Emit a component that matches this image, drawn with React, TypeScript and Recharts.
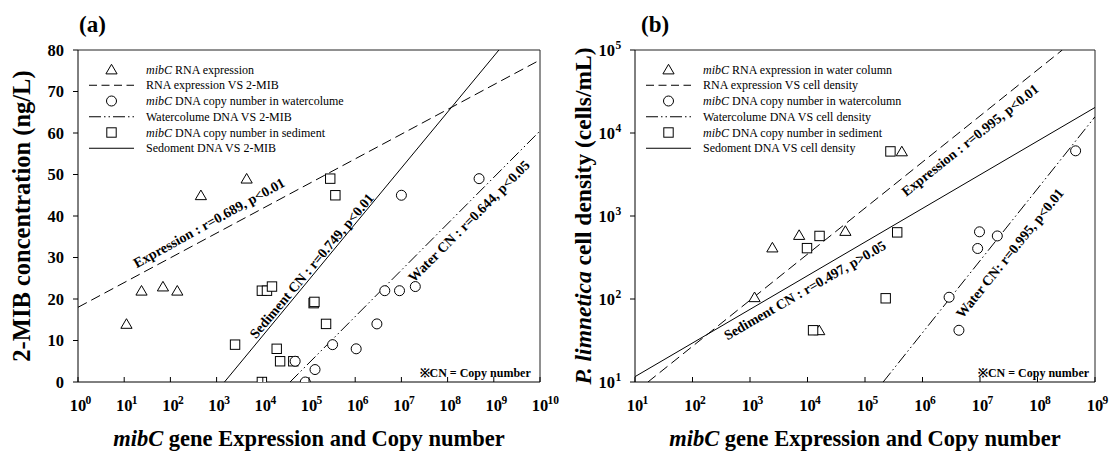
import React from 'react';
import { ScatterChart, Scatter, XAxis, YAxis, ReferenceLine, ReferenceDot } from 'recharts';

const FONT = "'Liberation Serif', 'Times New Roman', Times, serif";

// ---------------- Panel (a) ----------------
const aXTicks = [1, 10, 100, 1e3, 1e4, 1e5, 1e6, 1e7, 1e8, 1e9, 1e10];
const aYTicks = [0, 10, 20, 30, 40, 50, 60, 70, 80];

const aRna = [
  { x: 11.2, y: 14 }, { x: 23.7, y: 22 }, { x: 69, y: 23 }, { x: 141, y: 22 },
  { x: 457, y: 45 }, { x: 4470, y: 49 },
];
const aWater = [
  { x: 83200, y: 0 }, { x: 135000, y: 3 }, { x: 50100, y: 5 }, { x: 324000, y: 9 },
  { x: 1.05e6, y: 8 }, { x: 2.95e6, y: 14 }, { x: 4.37e6, y: 22 }, { x: 9.1e6, y: 22 },
  { x: 2.0e7, y: 23 }, { x: 1.0e7, y: 45 }, { x: 4.8e8, y: 49 },
];
const aSediment = [
  { x: 2510, y: 9 }, { x: 9550, y: 0 }, { x: 9550, y: 22 }, { x: 12300, y: 22 },
  { x: 15800, y: 23 }, { x: 20000, y: 8 }, { x: 23700, y: 5 }, { x: 45700, y: 5 },
  { x: 126000, y: 19 }, { x: 131000, y: 19.3 }, { x: 234000, y: 14 }, { x: 288000, y: 49 },
  { x: 372000, y: 45 },
];
const aRnaFit = [{ x: 1, y: 18 }, { x: 1e10, y: 77.6 }];
const aWaterFit = [{ x: 38900, y: 0 }, { x: 1e10, y: 60.5 }];
const aSedimentFit = [{ x: 1480, y: 0 }, { x: 1.29e9, y: 80 }];

const aNotes = [
  { x: 684, y: 38.4, angle: -29, text: 'Expression : r=0.689, p<0.01' },
  { x: 113000, y: 28.0, angle: -50, text: 'Sediment CN : r=0.749, p<0.01' },
  { x: 2.88e8, y: 38.8, angle: -45, text: 'Water CN : r=0.644, p<0.05' },
];
const aCnNote = { x: 6.3e9, y: 2.2, text: '※CN = Copy number' };

// ---------------- Panel (b) ----------------
const bXTicks = [10, 100, 1e3, 1e4, 1e5, 1e6, 1e7, 1e8, 1e9];
const bYTicks = [10, 100, 1e3, 1e4, 1e5];

const bRna = [
  { x: 1200, y: 105 }, { x: 2450, y: 417 }, { x: 7160, y: 590 }, { x: 45600, y: 660 },
  { x: 16000, y: 42 }, { x: 437000, y: 6000 },
];
const bWater = [
  { x: 9.8e6, y: 645 }, { x: 2.0e7, y: 575 }, { x: 9.1e6, y: 406 }, { x: 2.9e6, y: 105 },
  { x: 4.3e6, y: 42 }, { x: 4.6e8, y: 6100 },
];
const bSediment = [
  { x: 9800, y: 410 }, { x: 16200, y: 575 }, { x: 12500, y: 42 }, { x: 229000, y: 102 },
  { x: 363000, y: 635 }, { x: 277000, y: 6000 },
];
const bRnaFit = [{ x: 16.8, y: 10 }, { x: 2.7e8, y: 1e5 }];
const bWaterFit = [{ x: 207000, y: 10 }, { x: 1e9, y: 15700 }];
const bSedimentFit = [{ x: 10, y: 11.6 }, { x: 1e9, y: 20300 }];

const bNotes = [
  { x: 6.68e6, y: 8240, angle: -38.5, text: 'Expression : r=0.995, p<0.01' },
  { x: 8970, y: 128, angle: -30, text: 'Sediment CN : r=0.497, p>0.05' },
  { x: 3.29e7, y: 358, angle: -51, text: 'Water CN: r=0.995, p<0.01' },
];
const bCnNote = { x: 7.9e8, y: 12.8, text: '※CN = Copy number' };

// ---------------- Legends ----------------
type Kind = 'triangle' | 'circle' | 'square' | 'dash' | 'dashdot' | 'solid';
const aLegend: { kind: Kind; italic?: string; text: string }[] = [
  { kind: 'triangle', italic: 'mibC', text: ' RNA expression' },
  { kind: 'dash', text: 'RNA expression VS 2-MIB' },
  { kind: 'circle', italic: 'mibC', text: ' DNA copy number in watercolume' },
  { kind: 'dashdot', text: 'Watercolume DNA VS 2-MIB' },
  { kind: 'square', italic: 'mibC', text: ' DNA copy number in sediment' },
  { kind: 'solid', text: 'Sedoment DNA VS 2-MIB' },
];
const bLegend: { kind: Kind; italic?: string; text: string }[] = [
  { kind: 'triangle', italic: 'mibC', text: ' RNA expression in water column' },
  { kind: 'dash', text: 'RNA expression VS cell density' },
  { kind: 'circle', italic: 'mibC', text: ' DNA copy number in watercolumn' },
  { kind: 'dashdot', text: 'Watercolume DNA VS cell density' },
  { kind: 'square', italic: 'mibC', text: ' DNA copy number in sediment' },
  { kind: 'solid', text: 'Sedoment DNA VS cell density' },
];

const DASH = '10 5';
const DASHDOT = '12 3 1.5 3 1.5 3';

// ---------------- Shapes ----------------
const triPath = (cx: number, cy: number) =>
  `M${cx},${cy - 5.2} L${cx + 5.6},${cy + 4.4} L${cx - 5.6},${cy + 4.4} Z`;

const TriangleShape = (p: any) => (
  <path d={triPath(p.cx, p.cy)} fill="#fff" stroke="#000" strokeWidth={1} />
);
const CircleShape = (p: any) => (
  <circle cx={p.cx} cy={p.cy} r={5} fill="#fff" stroke="#000" strokeWidth={1} />
);
const SquareShape = (p: any) => (
  <rect x={p.cx - 4.7} y={p.cy - 4.7} width={9.4} height={9.4} fill="#fff" stroke="#000" strokeWidth={1} />
);
const NoShape = () => <g />;

// ---------------- Ticks ----------------
const TICK_FS = 16.5;
const SUP_FS = 11.5;

const PowXTick = (p: any) => {
  const { x, y, payload } = p;
  const e = Math.round(Math.log10(payload.value));
  return (
    <g>
      <line x1={x} x2={x} y1={y} y2={y - 5} stroke="#000" />
      <text x={x} y={y + 29} textAnchor="middle" fontFamily={FONT} fontWeight="bold" fontSize={TICK_FS} fill="#000">10</text>
      <text x={x + 7.6} y={y + 21.5} textAnchor="start" fontFamily={FONT} fontWeight="bold" fontSize={SUP_FS} fill="#000">{e}</text>
    </g>
  );
};

const NumYTick = (p: any) => {
  const { x, y, payload } = p;
  return (
    <g>
      <line x1={x - 5} x2={x} y1={y} y2={y} stroke="#000" />
      <text x={x - 14} y={y + 5.5} textAnchor="end" fontFamily={FONT} fontWeight="bold" fontSize={TICK_FS} fill="#000">{payload.value}</text>
    </g>
  );
};

const PowYTick = (p: any) => {
  const { x, y, payload } = p;
  const e = Math.round(Math.log10(payload.value));
  return (
    <g>
      <line x1={x - 5} x2={x} y1={y} y2={y} stroke="#000" />
      <text x={x - 20} y={y + 5.5} textAnchor="end" fontFamily={FONT} fontWeight="bold" fontSize={TICK_FS} fill="#000">10</text>
      <text x={x - 19.5} y={y - 1.5} textAnchor="start" fontFamily={FONT} fontWeight="bold" fontSize={SUP_FS} fill="#000">{e}</text>
    </g>
  );
};

const noteShape = (text: string, angle: number) => (p: any) => (
  <text
    x={p.cx}
    y={p.cy}
    dy="0.35em"
    textAnchor="middle"
    transform={`rotate(${angle} ${p.cx} ${p.cy})`}
    fontFamily={FONT}
    fontWeight="bold"
    fontSize={14}
    fill="#000"
  >
    {text}
  </text>
);

const cnShape = (text: string) => (p: any) => (
  <text x={p.cx} y={p.cy} dy="0.35em" textAnchor="end" fontFamily={FONT} fontWeight="bold" fontSize={12} fill="#000">
    {text}
  </text>
);

// ---------------- Legend ----------------
const LegendBlock = ({ items, left, top }: { items: { kind: Kind; italic?: string; text: string }[]; left: number; top: number }) => (
  <g transform={`translate(${left},${top})`}>
    {items.map((it, i) => {
      const cy = i * 15.75;
      const sx = 26.5;
      let sym: React.ReactNode = null;
      if (it.kind === 'triangle') sym = <path d={triPath(sx, cy)} fill="#fff" stroke="#000" />;
      if (it.kind === 'circle') sym = <circle cx={sx} cy={cy} r={5} fill="#fff" stroke="#000" />;
      if (it.kind === 'square') sym = <rect x={sx - 4.7} y={cy - 4.7} width={9.4} height={9.4} fill="#fff" stroke="#000" />;
      if (it.kind === 'dash') sym = <line x1={4} x2={49} y1={cy} y2={cy} stroke="#000" strokeDasharray="8 4.5" />;
      if (it.kind === 'dashdot') sym = <line x1={4} x2={49} y1={cy} y2={cy} stroke="#000" strokeDasharray={DASHDOT} />;
      if (it.kind === 'solid') sym = <line x1={4} x2={49} y1={cy} y2={cy} stroke="#000" />;
      return (
        <g key={i}>
          {sym}
          <text x={61} y={cy + 4.2} fontFamily={FONT} fontSize={12} fill="#000">
            {it.italic ? <tspan fontStyle="italic">{it.italic}</tspan> : null}
            {it.text}
          </text>
        </g>
      );
    })}
  </g>
);

const W = 1110;
const H = 453;

export default function App() {
  return (
    <div style={{ position: 'absolute', left: 0, top: 0, width: W, height: H, background: '#fff', overflow: 'hidden' }}>
      {/* Panel (a) */}
      <div style={{ position: 'absolute', left: 0, top: 0 }}>
        <ScatterChart width={575} height={H} margin={{ top: 50, right: 35, bottom: 0, left: 0 }}>
          <XAxis
            type="number"
            dataKey="x"
            scale="log"
            domain={[1, 1e10]}
            ticks={aXTicks}
            interval={0}
            allowDataOverflow
            height={71}
            tickSize={0}
            tickMargin={0}
            tick={<PowXTick />}
            axisLine={{ stroke: '#000' }}
          />
          <YAxis
            type="number"
            dataKey="y"
            domain={[0, 80]}
            ticks={aYTicks}
            interval={0}
            allowDataOverflow
            width={78}
            tickSize={0}
            tickMargin={0}
            tick={<NumYTick />}
            axisLine={{ stroke: '#000' }}
          />
          <ReferenceLine y={80} stroke="#222" />
          <ReferenceLine x={1e10} stroke="#222" />
          <Scatter data={aRnaFit} shape={NoShape} line={{ stroke: '#000', strokeWidth: 1, strokeDasharray: DASH }} isAnimationActive={false} />
          <Scatter data={aWaterFit} shape={NoShape} line={{ stroke: '#000', strokeWidth: 1, strokeDasharray: DASHDOT }} isAnimationActive={false} />
          <Scatter data={aSedimentFit} shape={NoShape} line={{ stroke: '#000', strokeWidth: 1 }} isAnimationActive={false} />
          <Scatter data={aRna} shape={TriangleShape} isAnimationActive={false} />
          <Scatter data={aSediment} shape={SquareShape} isAnimationActive={false} />
          <Scatter data={aWater} shape={CircleShape} isAnimationActive={false} />
          {aNotes.map((n, i) => (
            <ReferenceDot key={i} x={n.x} y={n.y} r={1} shape={noteShape(n.text, n.angle)} />
          ))}
          <ReferenceDot x={aCnNote.x} y={aCnNote.y} r={1} shape={cnShape(aCnNote.text)} />
        </ScatterChart>
      </div>

      {/* Panel (b) */}
      <div style={{ position: 'absolute', left: 557, top: 0 }}>
        <ScatterChart width={553} height={H} margin={{ top: 50, right: 15, bottom: 0, left: 0 }}>
          <XAxis
            type="number"
            dataKey="x"
            scale="log"
            domain={[10, 1e9]}
            ticks={bXTicks}
            interval={0}
            allowDataOverflow
            height={71}
            tickSize={0}
            tickMargin={0}
            tick={<PowXTick />}
            axisLine={{ stroke: '#000' }}
          />
          <YAxis
            type="number"
            dataKey="y"
            scale="log"
            domain={[10, 1e5]}
            ticks={bYTicks}
            interval={0}
            allowDataOverflow
            width={78}
            tickSize={0}
            tickMargin={0}
            tick={<PowYTick />}
            axisLine={{ stroke: '#000' }}
          />
          <ReferenceLine y={1e5} stroke="#222" />
          <ReferenceLine x={1e9} stroke="#222" />
          <Scatter data={bRnaFit} shape={NoShape} line={{ stroke: '#000', strokeWidth: 1, strokeDasharray: DASH }} isAnimationActive={false} />
          <Scatter data={bWaterFit} shape={NoShape} line={{ stroke: '#000', strokeWidth: 1, strokeDasharray: DASHDOT }} isAnimationActive={false} />
          <Scatter data={bSedimentFit} shape={NoShape} line={{ stroke: '#000', strokeWidth: 1 }} isAnimationActive={false} />
          <Scatter data={bRna} shape={TriangleShape} isAnimationActive={false} />
          <Scatter data={bSediment} shape={SquareShape} isAnimationActive={false} />
          <Scatter data={bWater} shape={CircleShape} isAnimationActive={false} />
          {bNotes.map((n, i) => (
            <ReferenceDot key={i} x={n.x} y={n.y} r={1} shape={noteShape(n.text, n.angle)} />
          ))}
          <ReferenceDot x={bCnNote.x} y={bCnNote.y} r={1} shape={cnShape(bCnNote.text)} />
        </ScatterChart>
      </div>

      {/* Titles and legends */}
      <svg width={W} height={H} style={{ position: 'absolute', left: 0, top: 0, pointerEvents: 'none' }}>
        <text x={79} y={32} fontFamily={FONT} fontWeight="bold" fontSize={23} fill="#000">(a)</text>
        <text x={641} y={32} fontFamily={FONT} fontWeight="bold" fontSize={23} fill="#000">(b)</text>

        <text transform="translate(29.5,216) rotate(-90)" textAnchor="middle" fontFamily={FONT} fontWeight="bold" fontSize={24.5} fill="#000">
          2-MIB concentration (ng/L)
        </text>
        <text transform="translate(591,216) rotate(-90)" textAnchor="middle" fontFamily={FONT} fontWeight="bold" fontSize={23.5} fill="#000">
          <tspan fontStyle="italic">P. limnetica</tspan> cell density (cells/mL)
        </text>

        <text x={309} y={446} textAnchor="middle" fontFamily={FONT} fontWeight="bold" fontSize={22.5} fill="#000">
          <tspan fontStyle="italic">mibC</tspan> gene Expression and Copy number
        </text>
        <text x={865} y={446} textAnchor="middle" fontFamily={FONT} fontWeight="bold" fontSize={22.5} fill="#000">
          <tspan fontStyle="italic">mibC</tspan> gene Expression and Copy number
        </text>

        <LegendBlock items={aLegend} left={85} top={69.5} />
        <LegendBlock items={bLegend} left={642} top={69.5} />
      </svg>
    </div>
  );
}
